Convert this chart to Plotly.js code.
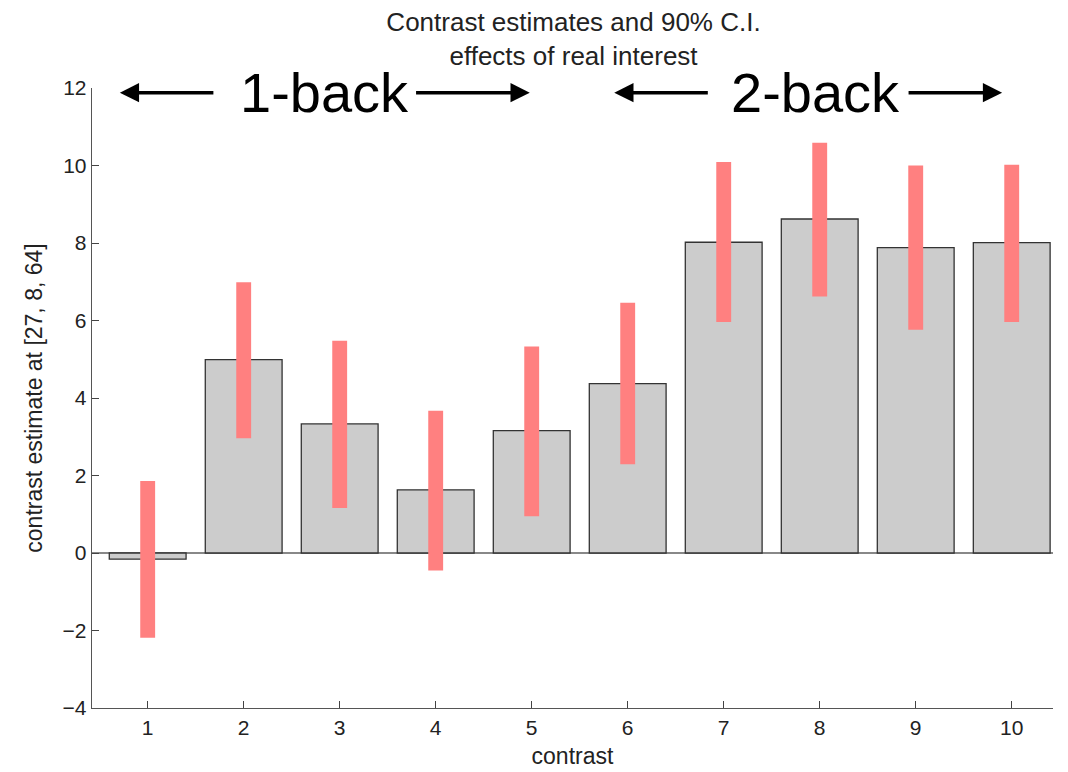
<!DOCTYPE html>
<html>
<head>
<meta charset="utf-8">
<script src="https://cdn.plot.ly/plotly-3.0.1.min.js"></script>
<style>html,body{margin:0;padding:0;background:#fff;}#chart{width:1068px;height:772px;}</style>
</head>
<body>
<div id="chart"></div>
<script>
const contrasts = [1, 2, 3, 4, 5, 6, 7, 8, 9, 10];
const estimates = [-0.16, 4.99, 3.33, 1.63, 3.16, 4.37, 8.02, 8.62, 7.88, 8.01];
const ciLower = [-2.19, 2.96, 1.16, -0.45, 0.95, 2.29, 5.96, 6.62, 5.76, 5.96];
const ciUpper = [1.86, 6.99, 5.48, 3.67, 5.33, 6.46, 10.09, 10.59, 10.0, 10.02];
const yTicks = [-4, -2, 0, 2, 4, 6, 8, 10, 12];
const groupLabels = ['1-back', '2-back'];
const groupCenters = [2.84, 7.96];
const arrowSpecs = [[1.70, 0.71], [3.78, 4.98], [6.85, 5.86], [8.91, 9.90]];

const font = 'Liberation Sans, Arial, Helvetica, sans-serif';

const bars = {
  type: 'bar', x: contrasts, y: estimates, width: 0.8,
  marker: {color: '#cccccc', line: {color: '#333333', width: 1.3}},
  hoverinfo: 'x+y'
};
const ci = {
  type: 'bar', x: contrasts, base: ciLower,
  y: ciUpper.map((u, i) => u - ciLower[i]), width: 0.155,
  marker: {color: 'rgb(255,128,128)', line: {width: 0}},
  hoverinfo: 'none'
};

const annotations = [];
groupLabels.forEach((t, i) => {
  annotations.push({x: groupCenters[i], y: 11.88, xref: 'x', yref: 'y', text: t, showarrow: false,
    font: {family: font, size: 56, color: '#000'}, xanchor: 'center', yanchor: 'middle'});
});
arrowSpecs.forEach(([tail, head]) => {
  annotations.push({x: head, y: 11.88, ax: tail, ay: 11.88, xref: 'x', yref: 'y', axref: 'x', ayref: 'y',
    text: '', showarrow: true, arrowhead: 2, arrowsize: 1.1, arrowwidth: 3.5, arrowcolor: '#000'});
});

const layout = {
  width: 1068, height: 772,
  margin: {l: 92, r: 15, t: 88, b: 64},
  paper_bgcolor: '#fff', plot_bgcolor: '#fff',
  barmode: 'overlay', showlegend: false,
  font: {family: font, size: 21, color: '#222'},
  title: {text: 'Contrast estimates and 90% C.I.<br>effects of real interest', x: 0.537, xanchor: 'center',
    y: 0.96, yanchor: 'top', font: {family: font, size: 26, color: '#222'}},
  xaxis: {range: [0.42, 10.43], tickvals: contrasts, ticks: 'inside', ticklen: 7, tickcolor: '#444',
    showline: true, linecolor: '#555', linewidth: 1.3, showgrid: false, zeroline: false,
    tickfont: {family: font, size: 21, color: '#222'},
    title: {text: 'contrast', font: {family: font, size: 23, color: '#222'}, standoff: 10}},
  yaxis: {range: [-4, 12], tickvals: yTicks, ticks: 'inside', ticklen: 7, tickcolor: '#444',
    showline: true, linecolor: '#555', linewidth: 1.3, showgrid: false,
    zeroline: true, zerolinecolor: '#888', zerolinewidth: 1.2,
    tickfont: {family: font, size: 21, color: '#222'},
    title: {text: 'contrast estimate at [27, 8, 64]', font: {family: font, size: 23, color: '#222'}, standoff: 13}},
  annotations: annotations
};

Plotly.newPlot('chart', [bars, ci], layout, {displayModeBar: false, staticPlot: true});
</script>
</body>
</html>
